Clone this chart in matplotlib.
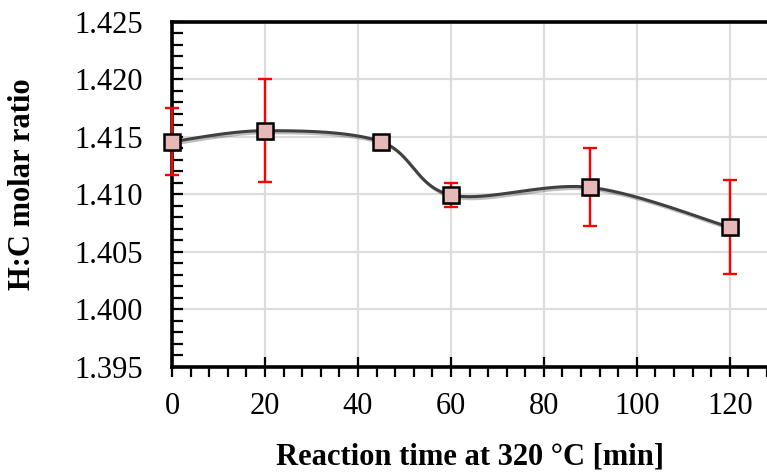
import numpy as np
import matplotlib
matplotlib.use("Agg")
import matplotlib.pyplot as plt
import matplotlib.patheffects as pe
from matplotlib.ticker import MultipleLocator, FormatStrFormatter

# data
time_min = [0, 20, 45, 60, 90, 120]
hc_ratio = [1.41459, 1.41555, 1.41459, 1.40996, 1.41062, 1.40715]
hc_err = [0.0029, 0.0045, 0.0, 0.00105, 0.0034, 0.0041]

plt.rcParams['font.family'] = ['Liberation Serif', 'DejaVu Serif']


def excel_smooth(x, y, n=40):
    # Excel style smoothed line: cubic bezier, control points at 1/6 of the neighbour span
    pts = np.column_stack([np.asarray(x, float), np.asarray(y, float)])
    out = []
    t = np.linspace(0, 1, n)[:, None]
    for i in range(len(pts) - 1):
        p0 = pts[i]
        p3 = pts[i + 1]
        prev = pts[i - 1] if i > 0 else pts[i]
        nxt = pts[i + 2] if i + 2 < len(pts) else pts[i + 1]
        c1 = p0 + (p3 - prev) / 6
        c2 = p3 - (nxt - p0) / 6
        seg = ((1 - t) ** 3) * p0 + 3 * ((1 - t) ** 2) * t * c1 + 3 * (1 - t) * t ** 2 * c2 + t ** 3 * p3
        out.append(seg)
    out = np.vstack(out)
    return out[:, 0], out[:, 1]


fig = plt.figure(figsize=(7.67, 4.74), dpi=100)
ax = fig.add_axes([172 / 767, 1 - 367 / 474, 1 - 172 / 767, (367 - 22) / 474])

ax.set_xlim(0, 128)
ax.set_ylim(1.395, 1.425)

ax.grid(True, which='major', color='#DDDDDD', lw=1.6, zorder=0)
ax.set_axisbelow(True)

sx, sy = excel_smooth(time_min, hc_ratio)
ax.plot(sx, sy, color='#404040', lw=2.2, zorder=3, solid_capstyle='round',
        path_effects=[pe.SimpleLineShadow(offset=(1.5, -1.5), alpha=0.25), pe.Normal()])

eb = ax.errorbar(time_min, hc_ratio, yerr=hc_err, fmt='none', ecolor='red',
                 elinewidth=1.7, capsize=5, capthick=1.7, zorder=4)
for art in list(eb.lines[1]) + list(eb.lines[2]):
    art.set_clip_on(False)

ax.plot(time_min, hc_ratio, ls='none', marker='s', ms=11.5, mfc='#E6B8B7', mec='black', mew=1.8,
        zorder=5, clip_on=False,
        path_effects=[pe.SimplePatchShadow(offset=(1.5, -1.5), alpha=0.35), pe.Normal()])

ax.xaxis.set_major_locator(MultipleLocator(20))
ax.xaxis.set_minor_locator(MultipleLocator(4))
ax.yaxis.set_major_locator(MultipleLocator(0.005))
ax.yaxis.set_minor_locator(MultipleLocator(0.001))
ax.yaxis.set_major_formatter(FormatStrFormatter('%.3f'))

ax.tick_params(axis='x', which='major', direction='inout', length=14, width=1.6, labelsize=22, pad=11)
ax.tick_params(axis='x', which='minor', direction='out', length=7, width=1.6)
ax.tick_params(axis='y', which='major', direction='in', length=8, width=1.6, labelsize=22, pad=21)
ax.tick_params(axis='y', which='minor', direction='in', length=8, width=1.6)

for side in ['left', 'bottom', 'top']:
    ax.spines[side].set_linewidth(2.6)
    ax.spines[side].set_color('black')
ax.spines['right'].set_visible(False)

ax.set_xlabel('Reaction time at 320 °C [min]', fontsize=22, fontweight='bold')
ax.set_ylabel('H:C molar ratio', fontsize=22, fontweight='bold')
ax.xaxis.set_label_coords((470 - 172) / (767 - 172), -(457 - 367) / 345)
ax.yaxis.set_label_coords(-(172 - 23) / (767 - 172), (367 - 184) / 345)
ax.yaxis.label.set_va('center')
ax.xaxis.label.set_va('center')

fig.savefig('out.png', dpi=100)
